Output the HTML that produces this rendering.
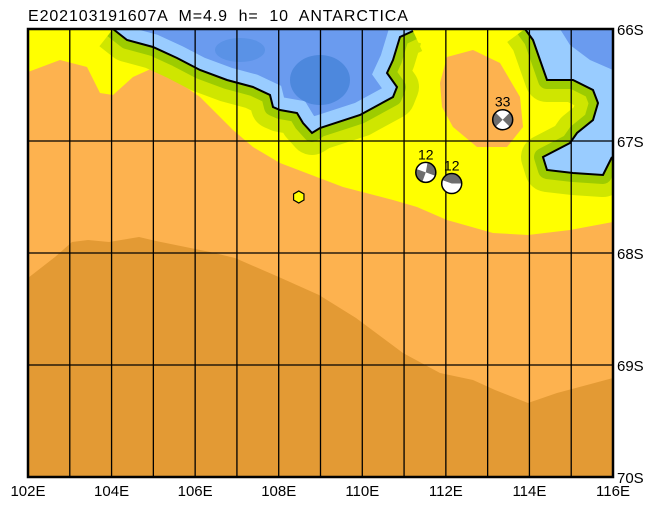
<!DOCTYPE html>
<html><head><meta charset="utf-8"><style>
body{margin:0;background:#fff;}
svg{display:block;font-family:"Liberation Sans",sans-serif;}
</style></head><body>
<svg id="map" width="658" height="505" viewBox="0 0 658 505" xmlns="http://www.w3.org/2000/svg">
<defs>
<clipPath id="frame"><rect x="28" y="29" width="585" height="448"/></clipPath>
<clipPath id="seaL"><path id="seaLpath" d="M113,29 L127,40 153,47 177,58 200,70 227,80 253,87 270,95 273,107 280,110 297,113 303,123 312,133 320,128 360,115 393,97 397,87 387,73 393,60 400,37 413,31 413,29 Z"/></clipPath>
<clipPath id="seaR"><path d="M525,29 L533,40 547,80 573,80 593,90 598,103 593,120 577,133 570,143 543,157 547,170 573,173 603,175 612,157 613,29 Z"/></clipPath>
</defs>
<text x="28" y="21" font-size="16" fill="#000" letter-spacing="0.9" style="white-space:pre">E202103191607A  M=4.9  h=  10  ANTARCTICA</text>
<g clip-path="url(#frame)">
<rect x="28" y="29" width="585" height="448" fill="#ffff00"/>
<path fill="#fdb24f" d="M28,72 L60,60 87,67 100,93 113,95 133,77 153,68 180,83 200,97 233,130 253,147 280,163 343,187 393,200 417,207 447,220 493,233 528,235 570,230 613,222 613,477 28,477 Z"/>
<path fill="#e39a34" d="M28,278 L55,257 72,242 88,240 109,242 139,237 156,241 210,252 235,258 281,278 319,295 356,318 403,353 440,373 473,380 495,390 528,403 557,393 587,385 613,378 613,477 28,477 Z"/>
<path fill="#fdb24f" d="M442,107 L440,83 447,57 473,50 500,63 520,97 523,127 507,147 477,147 453,127 Z"/>
<g fill="none" stroke-linejoin="round">
<path d="M113,29 L127,40 153,47 177,58 200,70 227,80 253,87 270,95 273,107 280,110 297,113 303,123 312,133 320,128 360,115 393,97 397,87 387,73 393,60 400,37 413,31" stroke="#cfe600" stroke-width="44"/>
<path d="M525,29 L533,40 547,80 573,80 593,90 598,103 593,120 577,133 570,143 543,157 547,170 573,173 603,175 612,157" stroke="#cfe600" stroke-width="44"/>
<path d="M113,29 L127,40 153,47 177,58 200,70 227,80 253,87 270,95 273,107 280,110 297,113 303,123 312,133 320,128 360,115 393,97 397,87 387,73 393,60 400,37 413,31" stroke="#9dcc00" stroke-width="18"/>
<path d="M525,29 L533,40 547,80 573,80 593,90 598,103 593,120 577,133 570,143 543,157 547,170 573,173 603,175 612,157" stroke="#9dcc00" stroke-width="18"/>
</g>
<g clip-path="url(#seaL)">
<rect x="28" y="29" width="400" height="120" fill="#6a9bef"/>
<path d="M113,29 L127,40 153,47 177,58 200,70 227,80 253,87 270,95 273,107 280,110 297,113 303,123 312,133 320,128 360,115 393,97 397,87 387,73 393,60 400,37 413,31" fill="none" stroke="#99ccff" stroke-width="26"/>
<ellipse cx="320" cy="80" rx="30" ry="25" fill="#4d88dd"/>
<ellipse cx="240" cy="50" rx="25" ry="12" fill="#5a92e6"/>
</g>
<g clip-path="url(#seaR)">
<rect x="520" y="29" width="100" height="160" fill="#99ccff"/>
<path d="M560,29 L613,29 613,70 590,60 570,45 Z" fill="#6a9bef"/>
</g>
<g fill="none" stroke="#000" stroke-width="2">
<path d="M113,29 L127,40 153,47 177,58 200,70 227,80 253,87 270,95 273,107 280,110 297,113 303,123 312,133 320,128 360,115 393,97 397,87 387,73 393,60 400,37 413,31"/>
<path d="M525,29 L533,40 547,80 573,80 593,90 598,103 593,120 577,133 570,143 543,157 547,170 573,173 603,175 612,157"/>
</g>
<g id="grid" stroke="#000" stroke-width="1.3"></g>
<g id="events"></g>
</g>
<rect x="28" y="29" width="585" height="448" fill="none" stroke="#000" stroke-width="2.5"/>
<g id="labels" font-size="15" fill="#000"></g>
</svg>
<script>
const lonTicks=[102,104,106,108,110,112,114,116];
const latTicks=[66,67,68,69,70];
const eventLon=[111.52,112.14,113.36];
const eventLat=[67.28,67.38,66.81];
const eventDepth=[12,12,33];
const mainLon=[108.48];
const mainLat=[67.50];
const NS="http://www.w3.org/2000/svg";
function xs(lon){return 28+(lon-102)/14*585;}
function ys(lat){return 29+(lat-66)/4*448;}
function mk(tag,attrs,parent){const e=document.createElementNS(NS,tag);for(const k in attrs)e.setAttribute(k,attrs[k]);parent.appendChild(e);return e;}
const grid=document.getElementById('grid'),labels=document.getElementById('labels'),ev=document.getElementById('events');
for(let l=102;l<=116;l++){const g=mk('line',{x1:xs(l),x2:xs(l),y1:29,y2:477},grid);

}
latTicks.forEach(t=>{const g=mk('line',{x1:28,x2:613,y1:ys(t),y2:ys(t)},grid);


const tx=mk('text',{x:617,y:ys(t)+6},labels);tx.textContent=t+'S';

});
lonTicks.forEach(t=>{const tx=mk('text',{x:xs(t),y:496,'text-anchor':'middle'},labels);tx.textContent=t+'E';

});
eventLon.forEach((lo,i)=>{const cx=xs(lo),cy=ys(eventLat[i]),r=10;
const g=mk('g',{},ev);


mk('circle',{cx:cx,cy:cy,r:r,fill:'#fff'},g);
const a=i===2?[[-45,45],[135,225]]:(i===0?[[-80,20],[110,200]]:[[-160,0]]);
a.forEach(([s,e])=>{const rs=s*Math.PI/180,re=e*Math.PI/180;
mk('path',{d:`M${cx},${cy} L${cx+r*Math.cos(rs)},${cy+r*Math.sin(rs)} A${r},${r} 0 ${e-s>180?1:0} 1 ${cx+r*Math.cos(re)},${cy+r*Math.sin(re)} Z`,fill:'#6e6e6e'},g);});
mk('circle',{cx:cx,cy:cy,r:r,fill:'none',stroke:'#000','stroke-width':1.5},g);
const t=mk('text',{x:cx,y:cy-13,'text-anchor':'middle','font-size':'14',fill:'#000'},g);t.textContent=eventDepth[i];

});
mainLon.forEach((lo,i)=>{const cx=xs(lo),cy=ys(mainLat[i]),r=6;let pts=[];
for(let k=0;k<6;k++){const an=Math.PI/6+k*Math.PI/3;pts.push((cx+r*Math.cos(an))+','+(cy+r*Math.sin(an)));}
const h=mk('polygon',{points:pts.join(' '),fill:'#ffff00',stroke:'#000','stroke-width':1.2},ev);

});
</script>
</body></html>
